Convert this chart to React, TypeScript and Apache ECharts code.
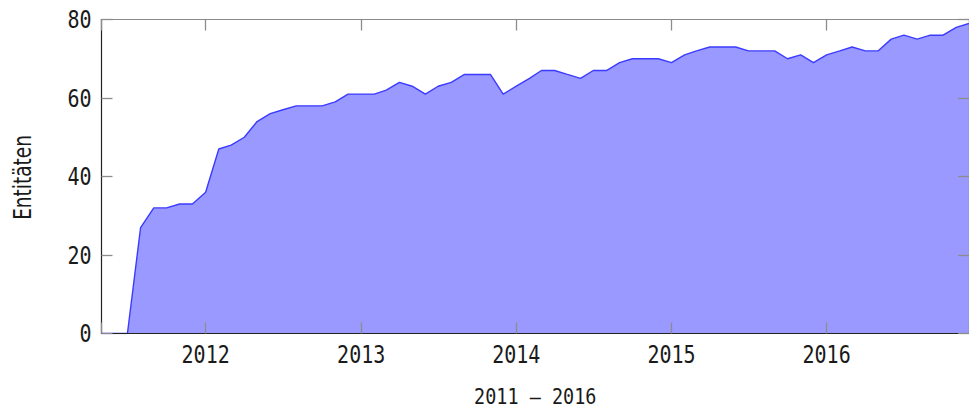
import React, { useEffect, useRef } from "react";
import * as echarts from "echarts";

const months: string[] = [
  "2011-05-01", "2011-06-01", "2011-07-01", "2011-08-01", "2011-09-01", "2011-10-01", "2011-11-01", "2011-12-01",
  "2012-01-01", "2012-02-01", "2012-03-01", "2012-04-01", "2012-05-01", "2012-06-01", "2012-07-01", "2012-08-01", "2012-09-01", "2012-10-01", "2012-11-01", "2012-12-01",
  "2013-01-01", "2013-02-01", "2013-03-01", "2013-04-01", "2013-05-01", "2013-06-01", "2013-07-01", "2013-08-01", "2013-09-01", "2013-10-01", "2013-11-01", "2013-12-01",
  "2014-01-01", "2014-02-01", "2014-03-01", "2014-04-01", "2014-05-01", "2014-06-01", "2014-07-01", "2014-08-01", "2014-09-01", "2014-10-01", "2014-11-01", "2014-12-01",
  "2015-01-01", "2015-02-01", "2015-03-01", "2015-04-01", "2015-05-01", "2015-06-01", "2015-07-01", "2015-08-01", "2015-09-01", "2015-10-01", "2015-11-01", "2015-12-01",
  "2016-01-01", "2016-02-01", "2016-03-01", "2016-04-01", "2016-05-01", "2016-06-01", "2016-07-01", "2016-08-01", "2016-09-01", "2016-10-01", "2016-11-01", "2016-12-01",
];

const entities: number[] = [
  0, 0, 0, 27, 32, 32, 33, 33,
  36, 47, 48, 50, 54, 56, 57, 58, 58, 58, 59, 61,
  61, 61, 62, 64, 63, 61, 63, 64, 66, 66, 66, 61,
  63, 65, 67, 67, 66, 65, 67, 67, 69, 70, 70, 70,
  69, 71, 72, 73, 73, 73, 72, 72, 72, 70, 71, 69,
  71, 72, 73, 72, 72, 75, 76, 75, 76, 76, 78, 79,
];

const xMin = "2011-05-01";
const xMax = "2016-12-01";
const xTickLabels: string[] = ["2012", "2013", "2014", "2015", "2016"];
const yTicks: number[] = [0, 20, 40, 60, 80];
const xTitle = "2011 – 2016";
const yTitle = "Entitäten";

const MONO = "'DejaVu Sans Mono', monospace";
const SANS = "'DejaVu Sans', sans-serif";
const TEXT_COLOR = "#1a1a1a";

export default function App() {
  const ref = useRef<HTMLDivElement>(null);
  useEffect(() => {
    if (!ref.current) return;
    const chart = echarts.init(ref.current, null, { renderer: "svg" });
    const yearMs = 365 * 24 * 3600 * 1000;
    const mkTick = () => ({ show: true, inside: true, length: 11, lineStyle: { color: "#8c8c8c", width: 1.3 } });
    chart.setOption({
      animation: false,
      backgroundColor: "#ffffff",
      grid: { left: 101.5, top: 19.5, right: -4, bottom: 76.5, containLabel: false },
      xAxis: [
        {
          type: "time",
          min: xMin,
          max: xMax,
          minInterval: yearMs,
          z: 5,
          position: "bottom",
          axisLine: { show: true, onZero: false, lineStyle: { color: "#222", width: 1.2 } },
          axisTick: mkTick(),
          splitLine: { show: false },
          axisLabel: { show: false },
        },
        {
          type: "time",
          min: xMin,
          max: xMax,
          minInterval: yearMs,
          z: 5,
          position: "top",
          axisLine: { show: true, onZero: false, lineStyle: { color: "#8a8a8a", width: 1.2 } },
          axisTick: mkTick(),
          splitLine: { show: false },
          axisLabel: { show: false },
        },
      ],
      yAxis: [
        {
          type: "value",
          min: yTicks[0],
          max: yTicks[yTicks.length - 1],
          interval: yTicks[1] - yTicks[0],
          z: 5,
          position: "left",
          axisLine: { show: true, onZero: false, lineStyle: { color: "#222", width: 1.2 } },
          axisTick: mkTick(),
          splitLine: { show: false },
          axisLabel: { show: false },
        },
        {
          type: "value",
          min: yTicks[0],
          max: yTicks[yTicks.length - 1],
          interval: yTicks[1] - yTicks[0],
          z: 5,
          position: "right",
          axisLine: { show: true, onZero: false, lineStyle: { color: "#8a8a8a", width: 1.2 } },
          axisTick: mkTick(),
          splitLine: { show: false },
          axisLabel: { show: false },
        },
      ],
      series: [
        {
          type: "line",
          xAxisIndex: 0,
          yAxisIndex: 0,
          z: 1,
          showSymbol: false,
          data: months.map((m, i) => [m, entities[i]]),
          lineStyle: { color: "#3b3bff", width: 1.4 },
          areaStyle: { color: "#9999ff", opacity: 1 },
        },
      ],
    });

    // Condensed labels, placed through the axes' own scales
    const px = (v: string) => chart.convertToPixel({ xAxisIndex: 0 }, v) as number;
    const py = (v: number) => chart.convertToPixel({ yAxisIndex: 0 }, v) as number;
    const axisX = px(xMin);
    const axisXRight = px(xMax);
    const axisY0 = py(yTicks[0]);
    const axisYTop = py(yTicks[yTicks.length - 1]);

    const graphics: any[] = [];
    xTickLabels.forEach((lab) => {
      graphics.push({
        type: "text",
        x: px(lab + "-01-01"),
        y: axisY0 + 20.5,
        scaleX: 0.8,
        silent: true,
        style: { text: lab, fill: TEXT_COLOR, fontFamily: MONO, fontSize: 25, lineHeight: 22, align: "center", verticalAlign: "middle" },
      });
    });
    yTicks.forEach((v) => {
      graphics.push({
        type: "text",
        x: axisX - 10,
        y: py(v),
        scaleX: 0.8,
        silent: true,
        style: { text: String(v), fill: TEXT_COLOR, fontFamily: MONO, fontSize: 25, lineHeight: 22, align: "right", verticalAlign: "middle" },
      });
    });
    graphics.push({
      type: "text",
      x: (axisX + axisXRight) / 2,
      y: axisY0 + 62.5,
      scaleX: 0.84,
      silent: true,
      style: { text: xTitle, fill: TEXT_COLOR, fontFamily: MONO, fontSize: 22, lineHeight: 20, align: "center", verticalAlign: "middle" },
    });
    graphics.push({
      type: "text",
      x: axisX - 79.5,
      y: (axisY0 + axisYTop) / 2 + 1,
      rotation: Math.PI / 2,
      scaleX: 0.74,
      silent: true,
      style: { text: yTitle, fill: TEXT_COLOR, fontFamily: SANS, fontSize: 25, lineHeight: 22, align: "center", verticalAlign: "middle" },
    });
    chart.setOption({ graphic: graphics });

    return () => chart.dispose();
  }, []);
  return (
    <div
      ref={ref}
      style={{ position: "fixed", left: 0, top: 0, width: 969, height: 410, background: "#fff" }}
    />
  );
}
